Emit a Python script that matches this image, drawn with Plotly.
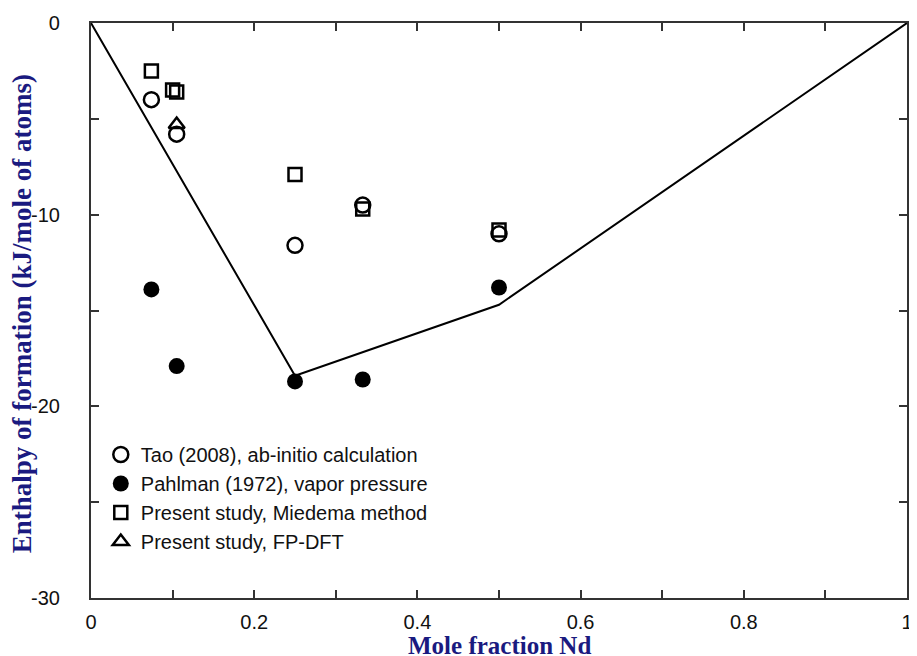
import plotly.graph_objects as go

# Data
x_tao = [0.074, 0.105, 0.25, 0.333, 0.5]
y_tao = [-4.0, -5.8, -11.6, -9.5, -11.0]

x_pahl = [0.074, 0.105, 0.25, 0.333, 0.5]
y_pahl = [-13.9, -17.9, -18.7, -18.6, -13.8]

x_mied = [0.074, 0.10, 0.105, 0.25, 0.333, 0.5]
y_mied = [-2.5, -3.5, -3.6, -7.9, -9.7, -10.8]

x_dft = [0.105]
y_dft = [-5.3]

x_hull = [0.0, 0.25, 0.5, 1.0]
y_hull = [0.0, -18.4, -14.7, 0.0]

x_tickvals = [0, 0.1, 0.2, 0.3, 0.4, 0.5, 0.6, 0.7, 0.8, 0.9, 1.0]
x_ticktext = ["0", "", "0.2", "", "0.4", "", "0.6", "", "0.8", "", "1"]
y_tickvals = [0, -5, -10, -15, -20, -25, -30]
y_ticktext = ["0", "", "-10", "", "-20", "", "-30"]

x_title = "<b>Mole fraction Nd</b>"
y_title = "<b>Enthalpy of formation (kJ/mole of atoms)</b>"

fig = go.Figure()
fig.add_trace(go.Scatter(x=x_hull, y=y_hull, mode="lines",
                         line=dict(color="black", width=2), showlegend=False))
fig.add_trace(go.Scatter(x=x_tao, y=y_tao, mode="markers",
                         name="Tao (2008), ab-initio calculation",
                         marker=dict(symbol="circle-open", size=15, color="black",
                                     line=dict(width=2.5, color="black"))))
fig.add_trace(go.Scatter(x=x_pahl, y=y_pahl, mode="markers",
                         name="Pahlman (1972), vapor pressure",
                         marker=dict(symbol="circle", size=16, color="black")))
fig.add_trace(go.Scatter(x=x_mied, y=y_mied, mode="markers",
                         name="Present study, Miedema method",
                         marker=dict(symbol="square-open", size=13, color="black",
                                     line=dict(width=2.5, color="black"))))
fig.add_trace(go.Scatter(x=x_dft, y=y_dft, mode="markers",
                         name="Present study, FP-DFT",
                         marker=dict(symbol="triangle-up-open", size=14, color="black",
                                     line=dict(width=2.5, color="black"))))

axis_common = dict(showgrid=False, zeroline=False, showline=True, linecolor="#333",
                   linewidth=2, mirror="ticks", ticks="inside", ticklen=8,
                   tickwidth=1.5, tickcolor="#333", automargin=False,
                   tickfont=dict(family="Liberation Sans, Arial", size=20, color="#111"))

fig.update_xaxes(range=[0, 1], tickmode="array", tickvals=x_tickvals, ticktext=x_ticktext,
                 ticklabelstandoff=5, **axis_common)
fig.update_yaxes(range=[-30, 0], tickmode="array", tickvals=y_tickvals,
                 ticktext=[t + "\u00a0\u00a0" if t else t for t in y_ticktext],
                 ticklabelstandoff=14, **axis_common)

fig.add_annotation(text=x_title, xref="paper", yref="paper", x=0.5, y=-0.083,
                   xanchor="center", yanchor="middle", showarrow=False,
                   font=dict(family="Liberation Serif, Times New Roman", size=25,
                             color="#1a1a80"))
fig.add_annotation(text=y_title, xref="paper", yref="paper", x=-0.0846, y=0.495,
                   xanchor="center", yanchor="middle", textangle=-90, showarrow=False,
                   font=dict(family="Liberation Serif, Times New Roman", size=27,
                             color="#1a1a80"))

fig.update_layout(
    width=909, height=648,
    margin=dict(l=83, r=10, t=15, b=58),
    plot_bgcolor="white", paper_bgcolor="white",
    legend=dict(x=0.012, y=0.2835, xanchor="left", yanchor="top",
                bgcolor="rgba(0,0,0,0)", itemwidth=30, tracegroupgap=0,
                font=dict(family="Liberation Sans, Arial", size=20, color="#111")),
)

fig.write_html("out.html")
